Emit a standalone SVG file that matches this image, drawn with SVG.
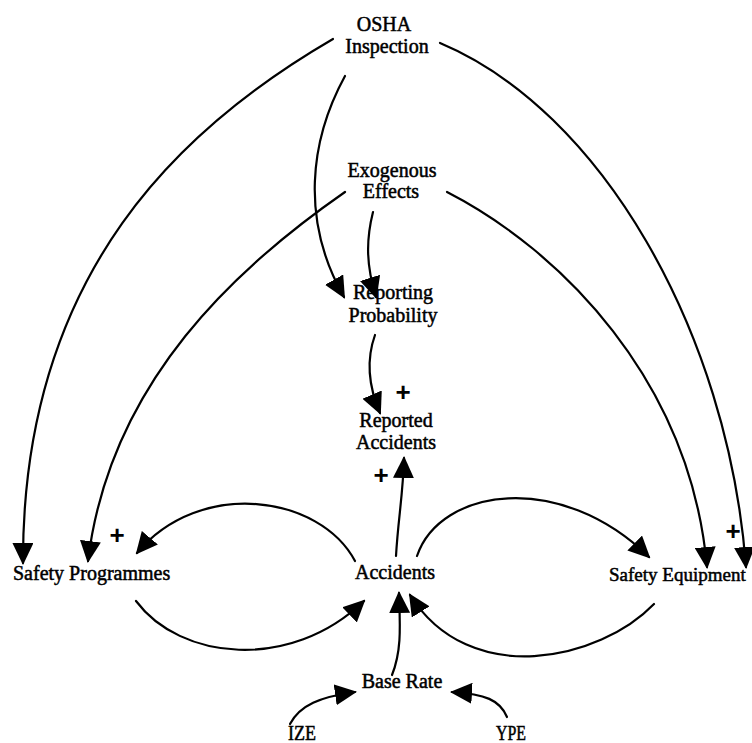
<svg xmlns="http://www.w3.org/2000/svg" width="752" height="743" viewBox="0 0 752 743">
  <style>
    .lbl { font-family: "Liberation Serif", "Times New Roman", serif; font-size: 20px; fill: #000; stroke: #000; stroke-width: 0.5; }
    .lbl.sm { font-size: 19px; }
    .mid { text-anchor: middle; }
    .pol { font-family: "Liberation Sans", Arial, sans-serif; font-size: 26px; font-weight: bold; fill: #000; text-anchor: middle; }
    .link { fill: none; stroke: #000; stroke-width: 2.2; stroke-linecap: round; marker-end: url(#head); }
  </style>
  <defs>
    <marker id="head" markerUnits="userSpaceOnUse" viewBox="0 0 22 21" refX="20" refY="10.5" markerWidth="22" markerHeight="21" orient="auto">
      <path d="M0,0 L22,10.5 L0,21 z" fill="#000"/>
    </marker>
  </defs>

  <rect width="752" height="743" fill="#fff"/>

  <g id="connectors">
    <!-- OSHA Inspection -> Safety Programmes -->
    <path class="link" d="M333,39 C185,125 22,270 23,563"/>
    <!-- OSHA Inspection -> Safety Equipment -->
    <path class="link" d="M440,43 C600,110 728,330 746,567"/>
    <!-- Exogenous Effects -> Safety Equipment -->
    <path class="link" d="M447,192 C560,250 690,380 707,567"/>
    <!-- Exogenous Effects -> Safety Programmes -->
    <path class="link" d="M345,192 C240,265 110,380 88,561"/>
    <!-- OSHA Inspection -> Reporting Probability -->
    <path class="link" d="M345,76 C310,140 300,220 344,297"/>
    <!-- Exogenous Effects -> Reporting Probability -->
    <path class="link" d="M373,212 C366,240 366,265 376,297"/>
    <!-- Reporting Probability -> Reported Accidents -->
    <path class="link" d="M375,335 C366,360 368,385 380,413"/>
    <!-- Accidents -> Reported Accidents -->
    <path class="link" d="M396,556 C398,520 403,495 404,458"/>
    <!-- Accidents -> Safety Programmes -->
    <path class="link" d="M355,561 C320,495 200,478 137,553"/>
    <!-- Safety Programmes -> Accidents -->
    <path class="link" d="M136,601 C180,660 290,672 364,601"/>
    <!-- Accidents -> Safety Equipment -->
    <path class="link" d="M417,556 C440,488 560,470 649,557"/>
    <!-- Safety Equipment -> Accidents -->
    <path class="link" d="M654,604 C600,660 470,690 410,595"/>
    <!-- Base Rate -> Accidents -->
    <path class="link" d="M392,675 C402,650 400,625 399,593"/>
    <!-- IZE -> Base Rate -->
    <path class="link" d="M290,724 C300,705 320,697 355,692"/>
    <!-- YPE -> Base Rate -->
    <path class="link" d="M507,717 C500,700 485,694 452,692"/>
  </g>

  <g id="polarity">
    <text class="pol" x="403" y="401">+</text>
    <text class="pol" x="381" y="484">+</text>
    <text class="pol" x="117" y="544">+</text>
    <text class="pol" x="733" y="540">+</text>
  </g>

  <g id="osha">
    <text class="lbl mid" x="384" y="31">OSHA</text>
    <text class="lbl mid" x="387" y="53">Inspection</text>
  </g>
  <g id="exogenous">
    <text class="lbl mid" x="392" y="177">Exogenous</text>
    <text class="lbl mid" x="391" y="198">Effects</text>
  </g>
  <g id="reporting-probability">
    <text class="lbl mid" x="393" y="299">Reporting</text>
    <text class="lbl mid" x="393" y="322">Probability</text>
  </g>
  <g id="reported-accidents">
    <text class="lbl mid" x="396" y="427">Reported</text>
    <text class="lbl mid" x="396" y="449">Accidents</text>
  </g>
  <g id="safety-programmes">
    <text class="lbl" x="13" y="580">Safety Programmes</text>
  </g>
  <g id="accidents">
    <text class="lbl mid" x="395" y="579">Accidents</text>
  </g>
  <g id="safety-equipment">
    <text class="lbl sm" x="609" y="581">Safety Equipment</text>
  </g>
  <g id="base-rate">
    <text class="lbl mid" x="402" y="688">Base Rate</text>
  </g>
  <g id="ize">
    <text class="lbl" x="288" y="740" textLength="28" lengthAdjust="spacingAndGlyphs">IZE</text>
  </g>
  <g id="ype">
    <text class="lbl" x="496" y="740" textLength="30" lengthAdjust="spacingAndGlyphs">YPE</text>
  </g>
</svg>
